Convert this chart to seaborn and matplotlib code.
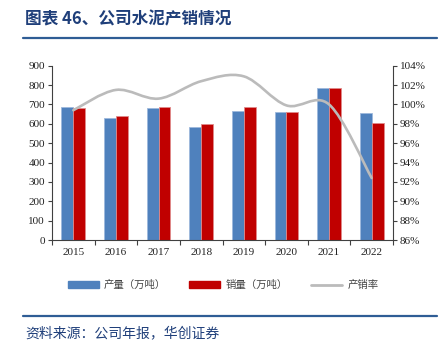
import numpy as np
import pandas as pd
import matplotlib
matplotlib.use("Agg")
import matplotlib.pyplot as plt
import seaborn as sns
from matplotlib.path import Path
from matplotlib.patches import PathPatch, Patch
from matplotlib.lines import Line2D
from matplotlib.ticker import FuncFormatter, MultipleLocator
from matplotlib.transforms import Affine2D

# ---- data ----
years = ["2015", "2016", "2017", "2018", "2019", "2020", "2021", "2022"]
production = [685, 630, 683, 583, 666, 659, 786, 654]
sales = [680, 638, 687, 597, 685, 659, 786, 603]
ratio = [99.4, 101.5, 100.6, 102.4, 102.9, 99.9, 100.0, 92.4]
series_names = ["产量（万吨）", "销量（万吨）", "产销率"]
title = "图表 46、公司水泥产销情况"
source = "资料来源：公司年报，华创证券"

sns.set_theme(style="white")
plt.rcParams['font.family'] = ['Liberation Serif', 'Noto Sans CJK SC', 'DejaVu Sans']

BLUE = "#4F81BD"
RED = "#C00000"
GRAY = "#BBBBBB"
NAVY = "#1F3F7A"
RULE = "#2F5D95"
AX = "#404040"

df = pd.DataFrame({
    "year": years * 2,
    "value": production + sales,
    "kind": [series_names[0]] * len(years) + [series_names[1]] * len(years),
})

fig = plt.figure(figsize=(4.41, 3.5), dpi=100)
ax = fig.add_axes([52 / 441, 1 - 240 / 350, (393 - 52) / 441, (240 - 65.7) / 350])

sns.barplot(data=df, x="year", y="value", hue="kind", palette=[BLUE, RED],
            width=0.56, saturation=1, ax=ax, legend=False, gap=0)
for i, p in enumerate(ax.patches):
    ec = "#9DB8DC" if i < len(years) else "#E08A8A"
    p.set_edgecolor(ec)
    p.set_linewidth(0.6)

ax.set_xlim(-0.5, len(years) - 0.5)
ax.set_ylim(0, 900)
ax.yaxis.set_major_locator(MultipleLocator(100))
ax.set_xlabel("")
ax.set_ylabel("")
for s in ["top", "right"]:
    ax.spines[s].set_visible(False)
for s in ["left", "bottom"]:
    ax.spines[s].set_color(AX)
    ax.spines[s].set_linewidth(0.8)
ax.tick_params(axis="y", which="major", direction="out", length=3, width=0.8,
               color=AX, labelsize=8, pad=2, left=True)
ax.tick_params(axis="x", which="major", length=0, labelsize=8, pad=6)
ax.set_xticks(np.arange(-0.5, len(years), 1), minor=True)
ax.tick_params(axis="x", which="minor", direction="out", length=3.5, width=0.8,
               color=AX, bottom=True)
for lab in ax.get_xticklabels() + ax.get_yticklabels():
    lab.set_fontfamily("Liberation Serif")
    lab.set_color("#222222")

ax2 = ax.twinx()
ax2.set_ylim(86, 104)
ax2.yaxis.set_major_locator(MultipleLocator(2))
ax2.yaxis.set_major_formatter(FuncFormatter(lambda v, p: f"{v:.0f}%"))
for s in ["top", "left", "bottom"]:
    ax2.spines[s].set_visible(False)
ax2.spines["right"].set_color(AX)
ax2.spines["right"].set_linewidth(0.8)
ax2.tick_params(axis="y", direction="out", length=3, width=0.8, color=AX,
                labelsize=8, pad=2, right=True)
for lab in ax2.get_yticklabels():
    lab.set_fontfamily("Liberation Serif")
    lab.set_color("#222222")

# smoothed line (Excel-like bezier smoothing through data points)
xs = np.arange(len(years), dtype=float)
ys = np.array(ratio, dtype=float)
verts = [(xs[0], ys[0])]
codes = [Path.MOVETO]
n = len(xs)
for i in range(n - 1):
    p0 = np.array([xs[max(i - 1, 0)], ys[max(i - 1, 0)]])
    p1 = np.array([xs[i], ys[i]])
    p2 = np.array([xs[i + 1], ys[i + 1]])
    p3 = np.array([xs[min(i + 2, n - 1)], ys[min(i + 2, n - 1)]])
    c1 = p1 + (p2 - p0) / 6.0
    c2 = p2 - (p3 - p1) / 6.0
    verts += [tuple(c1), tuple(c2), tuple(p2)]
    codes += [Path.CURVE4] * 3
ax2.add_patch(PathPatch(Path(verts, codes), fill=False, edgecolor=GRAY,
                        linewidth=1.9, capstyle="round", joinstyle="round"))

# title and rules
fig.text(25 / 441, 1 - 19.5 / 350, title, fontsize=12, fontweight="bold",
         color=NAVY, va="center", ha="left",
         family=["Noto Sans CJK SC", "DejaVu Sans"])
fig.add_artist(Line2D([23 / 441, 437 / 441], [1 - 38 / 350] * 2, color=RULE, lw=1.6))
fig.add_artist(Line2D([23 / 441, 437 / 441], [1 - 316 / 350] * 2, color=RULE, lw=1.6))
src = fig.text(25 / 441, 1 - 333 / 350, source, fontsize=10,
               color=NAVY, va="center", ha="left",
               family=["Noto Sans CJK SC", "DejaVu Sans"])

# legend
handles = [Patch(facecolor=BLUE, edgecolor=BLUE),
           Patch(facecolor=RED, edgecolor=RED),
           Line2D([0], [0], color=GRAY, lw=2.0)]
leg = fig.legend(handles, series_names, loc="center", bbox_to_anchor=(223 / 441, 1 - 285 / 350),
                 ncol=3, frameon=False, handlelength=3.0, handleheight=0.55,
                 columnspacing=2.2, handletextpad=0.5,
                 prop={"family": ["Noto Sans CJK SC", "DejaVu Sans"], "size": 7.5})
for t in leg.get_texts():
    t.set_color("#444444")

fig.savefig("out.png", dpi=100)
